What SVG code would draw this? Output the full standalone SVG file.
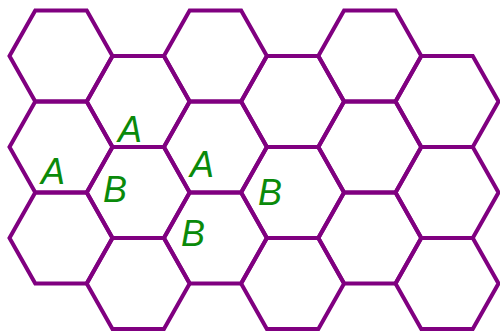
<svg xmlns="http://www.w3.org/2000/svg" xmlns:xlink="http://www.w3.org/1999/xlink" width="500" height="331" viewBox="0 0 500 331">
  <style>
    .hex { fill: none; stroke: #800080; stroke-width: 4; stroke-linejoin: miter; }
    .lbl { font-family: "Liberation Sans", Arial, sans-serif; font-style: italic; font-size: 36px; fill: #0a8a0a; text-anchor: middle; }
  </style>
  <defs>
    <polygon id="hex" class="hex" points="-51.5,0 -25.75,-45.5 25.75,-45.5 51.5,0 25.75,45.5 -25.75,45.5"/>
  </defs>
  <rect width="500" height="331" fill="#ffffff"/>
  <g id="cells">
    <g id="c0r0"><use href="#hex" x="61" y="56"/></g>
    <g id="c0r1"><use href="#hex" x="61" y="147"/></g>
    <g id="c0r2"><use href="#hex" x="61" y="238"/></g>
    <g id="c1r0"><use href="#hex" x="138.2" y="101.5"/></g>
    <g id="c1r1"><use href="#hex" x="138.2" y="192.5"/></g>
    <g id="c1r2"><use href="#hex" x="138.2" y="283.5"/></g>
    <g id="c2r0"><use href="#hex" x="215.4" y="56"/></g>
    <g id="c2r1"><use href="#hex" x="215.4" y="147"/></g>
    <g id="c2r2"><use href="#hex" x="215.4" y="238"/></g>
    <g id="c3r0"><use href="#hex" x="292.6" y="101.5"/></g>
    <g id="c3r1"><use href="#hex" x="292.6" y="192.5"/></g>
    <g id="c3r2"><use href="#hex" x="292.6" y="283.5"/></g>
    <g id="c4r0"><use href="#hex" x="369.8" y="56"/></g>
    <g id="c4r1"><use href="#hex" x="369.8" y="147"/></g>
    <g id="c4r2"><use href="#hex" x="369.8" y="238"/></g>
    <g id="c5r0"><use href="#hex" x="447" y="101.5"/></g>
    <g id="c5r1"><use href="#hex" x="447" y="192.5"/></g>
    <g id="c5r2"><use href="#hex" x="447" y="283.5"/></g>
  </g>
  <g id="labels">
    <text class="lbl" x="130" y="142">A</text>
    <text class="lbl" x="53" y="184">A</text>
    <text class="lbl" x="115" y="202">B</text>
    <text class="lbl" x="202" y="177">A</text>
    <text class="lbl" x="270" y="205">B</text>
    <text class="lbl" x="193" y="246">B</text>
  </g>
</svg>
